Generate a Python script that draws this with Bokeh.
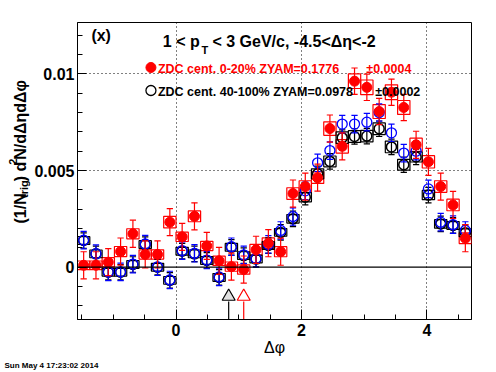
import numpy as np
from bokeh.plotting import figure
from bokeh.layouts import row, column
from bokeh.models import Range1d, FixedTicker, Span, Label
from bokeh.embed import file_html
from bokeh.resources import INLINE

# ---------------- data ----------------
n_bins = 32
dphi = [round(-np.pi / 2 + (i + 0.5) * 2 * np.pi / n_bins, 4) for i in range(n_bins)]
bin_width = 2 * np.pi / n_bins

# ZDC cent. 0-20% (red, filled)
central = [0.0001, 0.0001, 0.00026, 0.00081, 0.00173, 0.00066, 0.00066, 0.00233,
           0.00157, 0.00263, 0.0011, 0.00033, 0.00003, -0.00012, 0.0009, 0.00124,
           0.0008, 0.00381, 0.00417, 0.00463, 0.00717, 0.00625, 0.00962, 0.0093,
           0.00805, 0.00905, 0.00826, 0.00633, 0.00545, 0.00417, 0.00322, 0.0015]
central_err = [0.0007, 0.0007, 0.0007, 0.0007, 0.0007, 0.0007, 0.0007, 0.0007,
               0.0007, 0.0007, 0.0007, 0.0007, 0.0007, 0.0007, 0.0007, 0.0007,
               0.0007, 0.0007, 0.0007, 0.0007, 0.0007, 0.0007, 0.00068, 0.00068,
               0.00068, 0.00068, 0.00068, 0.0007, 0.0007, 0.0007, 0.0007, 0.0007]
central_sys = [0.00022, 0.00022, 0.00024, 0.00026, 0.00026, 0.00024, 0.00024, 0.0003,
               0.00024, 0.00028, 0.00024, 0.00024, 0.00024, 0.00024, 0.00028, 0.00028,
               0.00026, 0.0003, 0.0003, 0.0003, 0.00035, 0.00035, 0.00038, 0.00038,
               0.00036, 0.00038, 0.00036, 0.00034, 0.00032, 0.0003, 0.0003, 0.00028]

# ZDC cent. 40-100% (black, open)
peripheral = [0.00138, 0.00069, -0.00026, -0.00026, 0.00014, 0.00117, 0.0, -0.00068,
              0.00083, 0.00069, 0.00035, -0.00053, 0.00103, 0.0006, 0.00042, 0.00112,
              0.0018, 0.0025, 0.00362, 0.00483, 0.00547, 0.0067, 0.00676, 0.00678,
              0.00716, 0.00622, 0.0053, 0.0057, 0.00373, 0.00224, 0.00216, 0.00178]
peripheral_err = [0.0004] * n_bins
peripheral_sys = [0.0002, 0.0002, 0.0002, 0.0002, 0.0002, 0.0002, 0.0002, 0.0002,
                  0.0002, 0.0002, 0.0002, 0.0002, 0.0002, 0.0002, 0.0002, 0.0002,
                  0.0002, 0.00022, 0.00024, 0.00026, 0.00028, 0.0003, 0.0003, 0.0003,
                  0.0003, 0.0003, 0.00028, 0.00026, 0.00024, 0.00022, 0.0002, 0.0002]

# third (blue, open) series
scaled = [0.0014, 0.0007, -0.00024, -0.00024, 0.00016, 0.0012, 0.00002, -0.00066,
          0.00086, 0.00072, 0.00037, -0.0005, 0.00106, 0.00064, 0.00045, 0.00118,
          0.0019, 0.00262, 0.00395, 0.0054, 0.00603, 0.0074, 0.0074, 0.0075,
          0.008, 0.00695, 0.0059, 0.006, 0.00405, 0.00233, 0.0022, 0.0019]
scaled_err = [0.00045] * n_bins

# trigger-direction markers
trig_x = [0.84, 1.08]
trig_colors = ["black", "red"]
trig_fill = ["#e0e0e0", "white"]

x_ticks = [0, 2, 4]
x_minor = [-1.5, -1.0, -0.5, 0.5, 1.0, 1.5, 2.5, 3.0, 3.5, 4.5]
y_ticks = [0, 0.005, 0.01]
y_labels = {0: "0", 0.005: "0.005", 0.01: "0.01"}
y_minor = [-0.002, -0.001, 0.001, 0.002, 0.003, 0.004, 0.006, 0.007, 0.008, 0.009, 0.011, 0.012]

# ---------------- layout (page pixels) ----------------
PAGE_W, PAGE_H = 496, 370
LEFT_W = 31                 # strip holding the y title
MAIN_H = 359                # main figure height
FRAME_L, FRAME_R, FRAME_T, FRAME_B = 74, 471, 22, 319
XMIN, XMAX = -np.pi / 2, 1.5 * np.pi
YMIN, YMAX = -0.002704, 0.012654
FONT = "Liberation Sans"


def P(px, py):
    """page pixel -> main-figure data coords"""
    x = XMIN + (px - FRAME_L) / (FRAME_R - FRAME_L) * (XMAX - XMIN)
    y = YMAX - (py - FRAME_T) / (FRAME_B - FRAME_T) * (YMAX - YMIN)
    return x, y


main_w = PAGE_W - LEFT_W
p = figure(width=main_w, height=MAIN_H, output_backend="svg", toolbar_location=None,
           x_range=Range1d(XMIN, XMAX), y_range=Range1d(YMIN, YMAX),
           min_border_left=FRAME_L - LEFT_W, min_border_right=PAGE_W - FRAME_R,
           min_border_top=FRAME_T, min_border_bottom=MAIN_H - FRAME_B)
p.background_fill_color = "white"
p.border_fill_color = "white"
p.outline_line_color = "black"
p.outline_line_width = 1

# axes
p.xaxis.ticker = FixedTicker(ticks=x_ticks, minor_ticks=x_minor)
p.yaxis.ticker = FixedTicker(ticks=y_ticks, minor_ticks=y_minor)
p.yaxis.major_label_overrides = y_labels
for ax in (p.xaxis, p.yaxis):
    ax.major_tick_out = 0
    ax.minor_tick_out = 0
    ax.major_tick_line_color = "black"
    ax.minor_tick_line_color = "black"
    ax.axis_line_color = "black"
    ax.major_label_text_font = FONT
    ax.major_label_text_font_style = "bold"
    ax.major_label_text_font_size = "16px"
    ax.major_label_text_color = "black"
p.xaxis.major_tick_in = 10
p.xaxis.minor_tick_in = 5
p.yaxis.major_tick_in = 9
p.yaxis.minor_tick_in = 5
p.xaxis.major_label_standoff = 4
p.yaxis.major_label_standoff = 3
p.xaxis.axis_label = "\u0394\u03c6"
p.xaxis.axis_label_text_font = FONT
p.xaxis.axis_label_text_font_style = "normal"
p.xaxis.axis_label_text_font_size = "16px"
p.xaxis.axis_label_text_color = "black"
p.xaxis.axis_label_standoff = 0

p.xgrid.ticker = FixedTicker(ticks=x_ticks)
p.ygrid.ticker = FixedTicker(ticks=[0.005, 0.01])
for g in (p.xgrid, p.ygrid):
    g.grid_line_color = "black"
    g.grid_line_dash = "1 3"
    g.grid_line_width = 1

p.add_layout(Span(location=0, dimension="width", line_color="black", line_width=1.2))

# systematic boxes
p.rect(x=dphi, y=central, width=bin_width, height=[2 * s for s in central_sys],
       fill_color=None, line_color="red", line_width=1.2)
p.rect(x=dphi, y=peripheral, width=bin_width, height=[2 * s for s in peripheral_sys],
       fill_color=None, line_color="black", line_width=1.2)

cap = 0.05


def errbars(vals, errs, color):
    lo = [v - e for v, e in zip(vals, errs)]
    hi = [v + e for v, e in zip(vals, errs)]
    p.segment(x0=dphi, y0=lo, x1=dphi, y1=hi, line_color=color, line_width=1.2)
    xl = [x - cap for x in dphi]
    xr = [x + cap for x in dphi]
    p.segment(x0=xl, y0=lo, x1=xr, y1=lo, line_color=color, line_width=1.2)
    p.segment(x0=xl, y0=hi, x1=xr, y1=hi, line_color=color, line_width=1.2)


errbars(peripheral, peripheral_err, "black")
p.scatter(x=dphi, y=peripheral, marker="circle", size=10, fill_color=None,
          line_color="black", line_width=1.5)
errbars(scaled, scaled_err, "blue")
p.scatter(x=dphi, y=scaled, marker="circle", size=10, fill_color=None,
          line_color="blue", line_width=1.3)
errbars(central, central_err, "red")
p.scatter(x=dphi, y=central, marker="circle", size=10, fill_color="red",
          line_color="red")

# trigger markers
tri_y = P(0, 296)[1]
line_top = P(0, 301)[1]
p.segment(x0=trig_x, y0=[line_top] * 2, x1=trig_x, y1=[YMIN] * 2,
          line_color=trig_colors, line_width=1.2)
p.scatter(x=trig_x, y=[tri_y] * 2, marker="triangle", size=13,
          fill_color=trig_fill, line_color=trig_colors, line_width=1.2)

# legend markers
lx, ly = P(148, 67)
p.scatter(x=[lx], y=[ly], marker="circle", size=10, fill_color="red", line_color="red")
lx2, ly2 = P(148, 90)
p.scatter(x=[lx2], y=[ly2], marker="circle", size=10, fill_color=None,
          line_color="black", line_width=1.3)


def label(fig, x, y, text, size, color="black", style="bold", align="left",
          baseline="middle", angle=0.0):
    fig.add_layout(Label(x=x, y=y, text=text, text_font=FONT, text_font_style=style,
                         text_font_size=f"{size}px", text_color=color,
                         text_align=align, text_baseline=baseline, angle=angle))


def mlabel(px, py, text, size, **kw):
    x, y = P(px, py)
    label(p, x, y, text, size, **kw)


mlabel(88, 35, "(x)", 16)
mlabel(160, 41, "1 < p", 16, baseline="alphabetic")
mlabel(199, 49, "T", 11, baseline="alphabetic")
mlabel(210, 41, " < 3 GeV/c, -4.5<\u0394\u03b7<-2", 16, baseline="alphabetic")

mlabel(155, 68, "ZDC cent. 0-20% ZYAM=0.1776", 12.5, color="red")
mlabel(365, 68, "\u00b10.0004", 12.5, color="red")
mlabel(155, 91, "ZDC cent. 40-100% ZYAM=0.0978", 12.5)
mlabel(374, 91, "\u00b10.0002", 12.5)


def strip(w, h):
    f = figure(width=w, height=h, output_backend="svg", toolbar_location=None,
               x_range=Range1d(0, w), y_range=Range1d(h, 0),
               x_axis_type=None, y_axis_type=None, min_border=0)
    f.outline_line_color = None
    f.background_fill_color = "white"
    f.border_fill_color = "white"
    return f


# y title strip (coordinates = page pixels)
left = strip(LEFT_W, MAIN_H)
A = np.pi / 2
label(left, 19.5, 243, "(1/N", 16, baseline="alphabetic", angle=A)
label(left, 23.5, 212, "trig", 11, baseline="alphabetic", angle=A)
label(left, 19.5, 192, ") d", 16, baseline="alphabetic", angle=A)
label(left, 12.5, 172, "2", 11, baseline="alphabetic", angle=A)
label(left, 19.5, 166, "N/d\u0394\u03b7d\u0394\u03c6", 16, baseline="alphabetic", angle=A)

# date strip
bottom = strip(PAGE_W, PAGE_H - MAIN_H)
label(bottom, 4, 5, "Sun May  4 17:23:02 2014", 8)

page = column(row(left, p), bottom)
open("out.html", "w").write(file_html(page, INLINE))
